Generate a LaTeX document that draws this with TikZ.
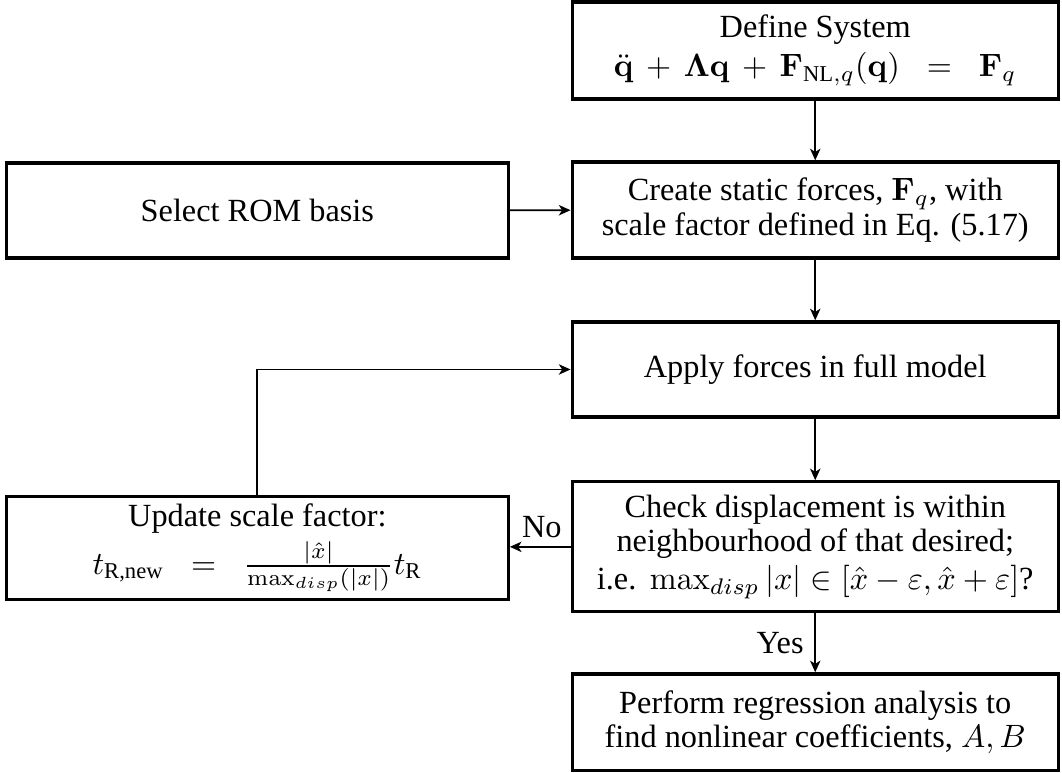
\documentclass[tikz,border=0pt]{standalone}
\usepackage{amsmath,amsfonts,amssymb}
\usepackage[no-math]{fontspec}
\setmainfont{Liberation Serif}
\usepackage{tikz}
\usetikzlibrary{arrows, arrows.meta, calc, positioning}

\begin{document}
\begin{tikzpicture}[>={Stealth[length=3.6pt, width=3.2pt, inset=1pt]},
		box/.style={draw, line width=1pt, align=center, inner sep=0pt, font=\fontsize{10}{10.6}\selectfont},
		rbox/.style={box, minimum width=5.29cm},
		lbox/.style={box, minimum width=5.46cm},
		flow/.style={->, line width=0.55pt}]
		\useasboundingbox (0,0) rectangle (11.555,-8.41);
		\node[rbox, minimum height=1.055cm] (define) at (8.87,-0.549) {Define System\\[1.5pt] $\ddot{\mathbf{q}} \,+\, \boldsymbol{\Lambda}\mathbf{q} \,+\, \mathbf{F}_{\text{NL},q}(\mathbf{q}) \;\;=\;\; \mathbf{F}_q$};
		\node[rbox, minimum height=1.045cm] (create) at (8.87,-2.285) {Create static forces, $\mathbf{F}_q$, with\\ scale factor defined in Eq. (5.17)};
		\node[rbox, minimum height=1.034cm] (apply) at (8.87,-4.02) {Apply forces in full model};
		\node[rbox, minimum height=1.414cm] (check) at (8.87,-5.95) {Check displacement is within\\ neighbourhood of that desired;\\[1pt] i.e.\ \,$\max_{disp}|x| \in [\hat{x}-\varepsilon, \hat{x}+\varepsilon]$?};
		\node[rbox, minimum height=1.055cm] (perform) at (8.87,-7.86) {Perform regression analysis to\\ find nonlinear coefficients, $A, B$};
		
		\node[lbox, minimum height=1.034cm] (rom) at (2.80,-2.29) {Select ROM basis};
		\node[lbox, minimum height=1.12cm] (update) at (2.80,-5.96) {Update scale factor:\\[1.5pt] $t_{\text{R,new}} \;\;=\;\; \frac{|\hat{x}|}{\max_{disp}(|x|)}t_{\text{R}}$};
		
		\draw[flow] (define) -- (create);
		\draw[flow] (rom) -- (create);
		\draw[flow] (create) -- (apply);
		\draw[flow] (apply) -- (check);
		\draw[flow] (check) -- node[left, font=\fontsize{10}{10.6}\selectfont]{Yes} (perform);
		\draw[flow] (check.west) -- node[pos=0, anchor=south east, inner sep=2.5pt, font=\fontsize{10}{10.6}\selectfont]{No} (check.west -| update.east);
		\draw[flow] (update.north) |- (apply.west);
	\end{tikzpicture}
\end{document}
